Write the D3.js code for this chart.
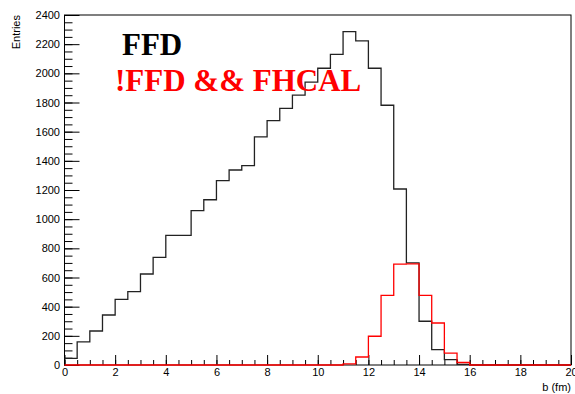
<!DOCTYPE html>
<html>
<head>
<meta charset="utf-8">
<script src="https://cdn.jsdelivr.net/npm/d3@7"></script>
<style>
  html, body { margin: 0; padding: 0; background: #fff; }
  svg { display: block; }
</style>
</head>
<body>
<svg id="chart"></svg>
<script>
// bin lower edges, 0.5 fm wide, from 0 to 20
const binLow = d3.range(0, 20, 0.5);
const binWidth = 0.5;

// FFD (black)
const ffd = [46, 158, 233, 343, 450, 503, 624, 738, 889, 889,
  1058, 1133, 1264, 1337, 1367, 1564, 1676, 1760, 1851, 1940,
  2035, 2130, 2286, 2222, 2035, 1781, 1207, 700, 300, 105,
  37, 4, 0, 0, 0, 0, 0, 0, 0, 0];

// !FFD && FHCAL (red)
const noFfdFhcal = [0, 0, 0, 0, 0, 0, 0, 0, 0, 0,
  0, 0, 0, 0, 0, 0, 0, 0, 0, 0,
  0, 0, 8, 55, 197, 478, 692, 693, 478, 288,
  82, 17, 0, 0, 0, 0, 0, 0, 0, 0];

const xTicks = [0, 2, 4, 6, 8, 10, 12, 14, 16, 18, 20];
const yTicks = [0, 200, 400, 600, 800, 1000, 1200, 1400, 1600, 1800, 2000, 2200, 2400];

const width = 575;
const height = 394;
const margin = { top: 15, right: 4, bottom: 29, left: 64.5 };

const svg = d3.select('#chart')
  .attr('width', width)
  .attr('height', height);

const x = d3.scaleLinear().domain([0, 20]).range([margin.left, width - margin.right]);
const y = d3.scaleLinear().domain([0, 2400]).range([height - margin.bottom, margin.top]);

const font = 'Liberation Sans, Arial, Helvetica, sans-serif';

// histograms
const line = d3.line()
  .x(d => x(d[0]))
  .y(d => y(d[1]))
  .curve(d3.curveStepAfter);

function outline(values) {
  const pts = binLow.map((b, i) => [b, values[i]]);
  pts.push([binLow[binLow.length - 1] + binWidth, values[values.length - 1]]);
  return pts;
}

// x axis minor + major ticks (inside)
const xMinor = svg.append('g')
  .attr('transform', `translate(0,${y(0)})`)
  .call(d3.axisBottom(x).tickValues(d3.range(0, 20.01, 0.5)).tickSize(-5).tickFormat(''));
xMinor.select('.domain').remove();

const xAxis = svg.append('g')
  .attr('transform', `translate(0,${y(0)})`)
  .call(d3.axisBottom(x).tickValues(xTicks).tickSize(-10).tickPadding(3).tickFormat(d3.format('d')));
xAxis.select('.domain').remove();
xAxis.selectAll('text').style('font-family', font).style('font-size', '11px').attr('fill', '#000');

// y axis minor + major ticks (inside)
const yMinor = svg.append('g')
  .attr('transform', `translate(${x(0)},0)`)
  .call(d3.axisLeft(y).tickValues(d3.range(0, 2401, 50)).tickSize(-8).tickFormat(''));
yMinor.select('.domain').remove();

const yAxis = svg.append('g')
  .attr('transform', `translate(${x(0)},0)`)
  .call(d3.axisLeft(y).tickValues(yTicks).tickSize(-15).tickPadding(4.5).tickFormat(d3.format('d')));
yAxis.select('.domain').remove();
yAxis.selectAll('text').style('font-family', font).style('font-size', '11px').attr('fill', '#000');

svg.selectAll('.tick line').attr('stroke', '#000');

// frame
svg.append('rect')
  .attr('x', x(0))
  .attr('y', y(2400))
  .attr('width', x(20) - x(0))
  .attr('height', y(0) - y(2400))
  .attr('fill', 'none')
  .attr('stroke', '#000')
  .attr('stroke-width', 1);

svg.append('path')
  .datum(outline(ffd))
  .attr('d', line)
  .attr('fill', 'none')
  .attr('stroke', '#222')
  .attr('stroke-width', 1.3);

svg.append('path')
  .datum(outline(noFfdFhcal))
  .attr('d', line)
  .attr('fill', 'none')
  .attr('stroke', '#ff0000')
  .attr('stroke-width', 1.3);

// axis titles
svg.append('text')
  .attr('x', x(20))
  .attr('y', 391)
  .attr('text-anchor', 'end')
  .style('font-family', font)
  .style('font-size', '11px')
  .text('b (fm)');

svg.append('text')
  .attr('transform', `translate(20,${y(2400)}) rotate(-90)`)
  .attr('text-anchor', 'end')
  .style('font-family', font)
  .style('font-size', '11px')
  .text('Entries');

// labels
svg.append('text')
  .attr('x', 122)
  .attr('y', 55)
  .style('font-family', 'Liberation Serif, Times New Roman, serif')
  .style('font-weight', 'bold')
  .style('font-size', '31px')
  .attr('fill', '#000')
  .text('FFD');

svg.append('text')
  .attr('x', 115)
  .attr('y', 91)
  .style('font-family', 'Liberation Serif, Times New Roman, serif')
  .style('font-weight', 'bold')
  .style('font-size', '31px')
  .attr('fill', '#ff0000')
  .text('!FFD && FHCAL');
</script>
</body>
</html>
